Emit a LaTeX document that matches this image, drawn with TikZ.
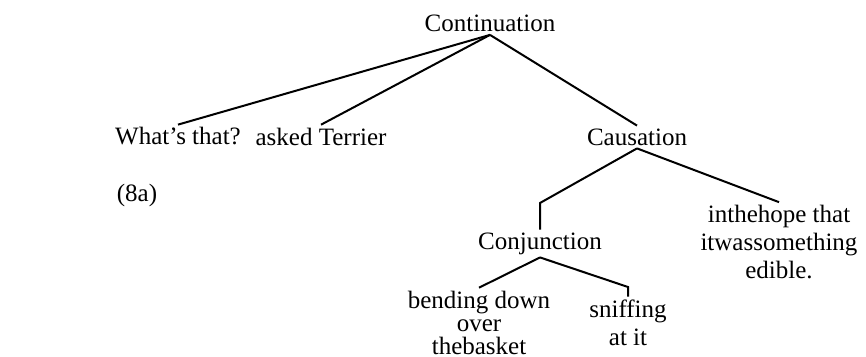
\documentclass[tikz,border=0pt]{standalone}
\usepackage{fontspec}
\setmainfont{Liberation Serif}
\begin{document}
\begin{tikzpicture}[x=0.5pt,y=-0.5pt,line width=1pt,
    every node/.style={font=\fontsize{12.5}{14}\selectfont,align=center,inner sep=1pt}]
      \useasboundingbox (0,0) rectangle (866,357);
      \draw
        (490,23.5) node (cont){Continuation}
        (178,136.5) node (whats){What's that?}
        (321,136.5) node (asked){asked Terrier}
        (637,137) node (caus){Causation}
        (137,195) node (label){(8a)}
        (540,243.5) node (conj){Conjunction}
        (779,242) node (hope){inthehope that\\itwassomething\\edible.}
        (479,322.5) node[font=\fontsize{12.5}{11.5}\selectfont] (bend){bending down\\over\\thebasket}
        (628,322.5) node (sniff){sniffing\\at it};
      \coordinate (k1) at (540,203);
      \coordinate (k2) at (628,287);
      \begin{scope}[-]
        \draw (cont.south) to (whats.north);
        \draw (cont.south) to (asked.north);
        \draw (cont.south) to (caus.north);
        \draw (caus.south) to (k1) to (conj.north);
        \draw (caus.south) to (hope.north);
        \draw (conj.south) to (bend.north);
        \draw (conj.south) to (k2) to (sniff.north);
      \end{scope}
    \end{tikzpicture}
\end{document}
